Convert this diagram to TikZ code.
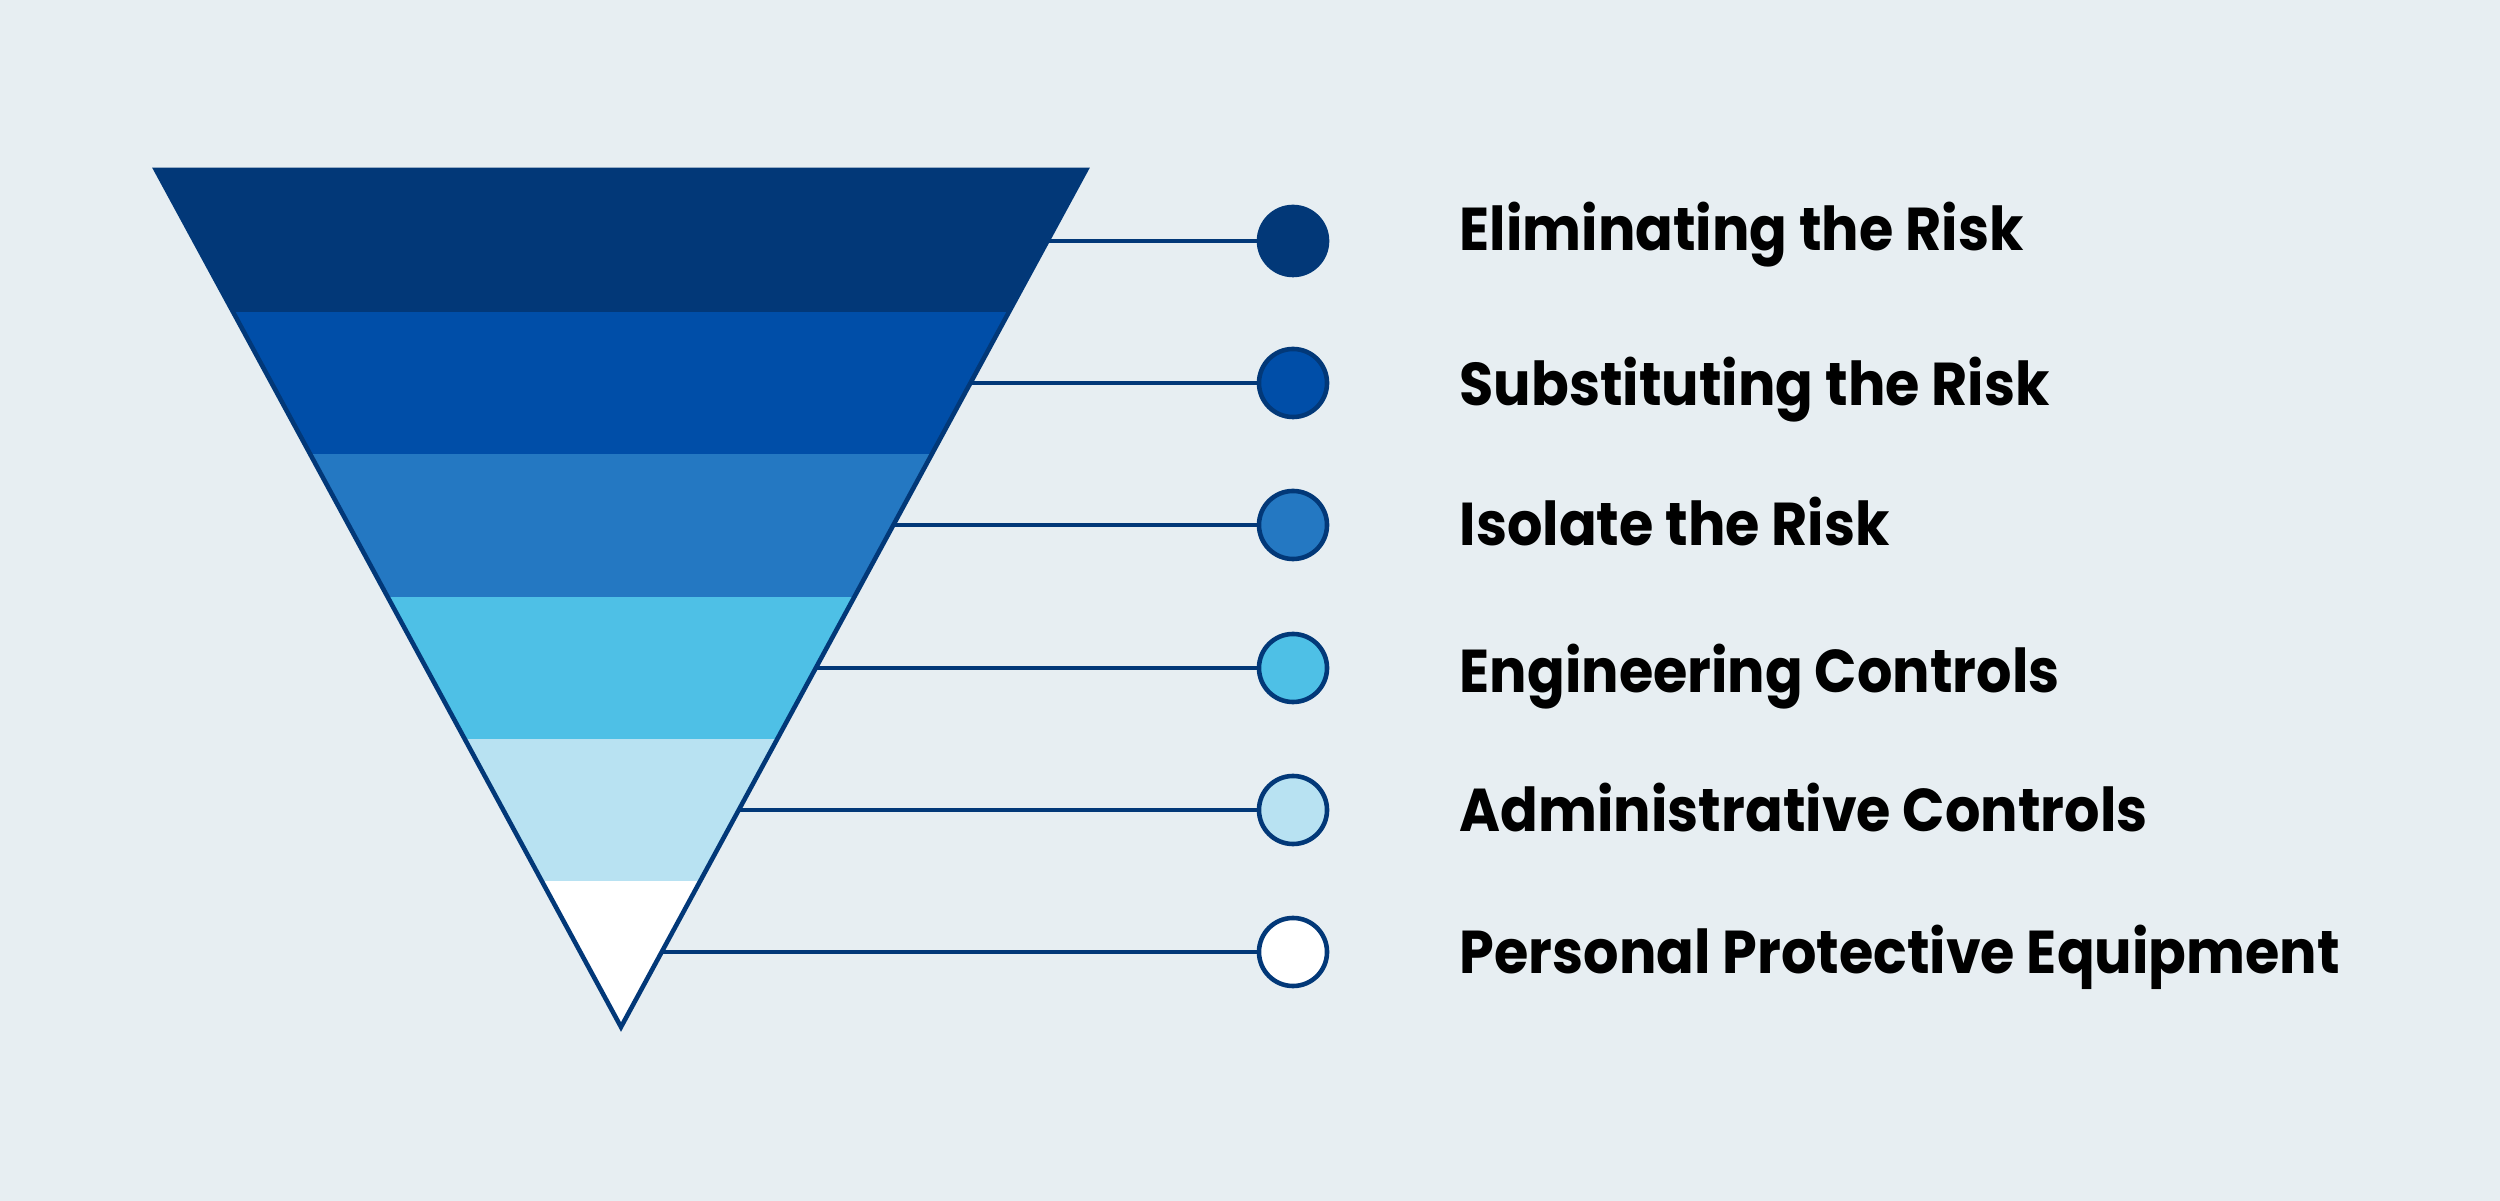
\documentclass[tikz,border=0pt]{standalone}
\usepackage{fontspec}
\setmainfont{Poppins}[FakeStretch=0.92]
\usepackage{tikz}

\definecolor{bgcol}{HTML}{E7EEF2}
\definecolor{navy}{HTML}{023878}
\definecolor{bandA}{HTML}{023878}
\definecolor{bandB}{HTML}{004EA8}
\definecolor{bandC}{HTML}{2478C2}
\definecolor{bandD}{HTML}{4EC0E6}
\definecolor{bandE}{HTML}{B8E2F2}
\definecolor{bandF}{HTML}{FFFFFF}

\tikzset{
  dot/.style={circle,draw=navy,line width=1.3pt,minimum size=0.68cm,inner sep=0pt},
  riskname/.style={anchor=base west,inner sep=0pt,font=\fontsize{17.2}{20}\selectfont\bfseries},
  link/.style={draw=navy,line width=1.3pt}
}

\begin{document}
\begin{tikzpicture}[x=0.01cm,y=-0.01cm]
\fill[bgcol] (0,0) rectangle (2500,1201);
\useasboundingbox (0,0) rectangle (2500,1201);

% the funnel
\begin{scope}
\clip (156,170) -- (1086,170) -- (621,1027) -- cycle;
\fill[bandA] (100,170) rectangle (1100,312);
\fill[bandB] (100,312) rectangle (1100,454);
\fill[bandC] (100,454) rectangle (1100,597);
\fill[bandD] (100,597) rectangle (1100,739);
\fill[bandE] (100,739) rectangle (1100,881);
\fill[bandF] (100,881) rectangle (1100,1030);
\end{scope}
\draw[navy,line width=1.3pt,line join=miter] (156,170) -- (1086,170) -- (621,1027) -- cycle;

% points on the right edge
\coordinate (e1) at (1047.5,241);
\coordinate (e2) at (970.4,383);
\coordinate (e3) at (893.4,525);
\coordinate (e4) at (815.8,668);
\coordinate (e5) at (738.7,810);
\coordinate (e6) at (661.7,952);

% circles
\node[dot,fill=bandA] (c1) at (1293,241) {};
\node[dot,fill=bandB] (c2) at (1293,383) {};
\node[dot,fill=bandC] (c3) at (1293,525) {};
\node[dot,fill=bandD] (c4) at (1293,668) {};
\node[dot,fill=bandE] (c5) at (1293,810) {};
\node[dot,fill=bandF] (c6) at (1293,952) {};

\draw[link] (e1) -- (c1);
\draw[link] (e2) -- (c2);
\draw[link] (e3) -- (c3);
\draw[link] (e4) -- (c4);
\draw[link] (e5) -- (c5);
\draw[link] (e6) -- (c6);

% labels
\node[riskname] (t1) at (1459,251) {Eliminating the Risk};
\node[riskname] (t2) at (1459,406) {Substituting the Risk};
\node[riskname] (t3) at (1459,546) {Isolate the Risk};
\node[riskname] (t4) at (1459,693) {Engineering Controls};
\node[riskname] (t5) at (1459,832) {Administrative Controls};
\node[riskname] (t6) at (1459,973) {Personal Protective Equipment};
\end{tikzpicture}
\end{document}
